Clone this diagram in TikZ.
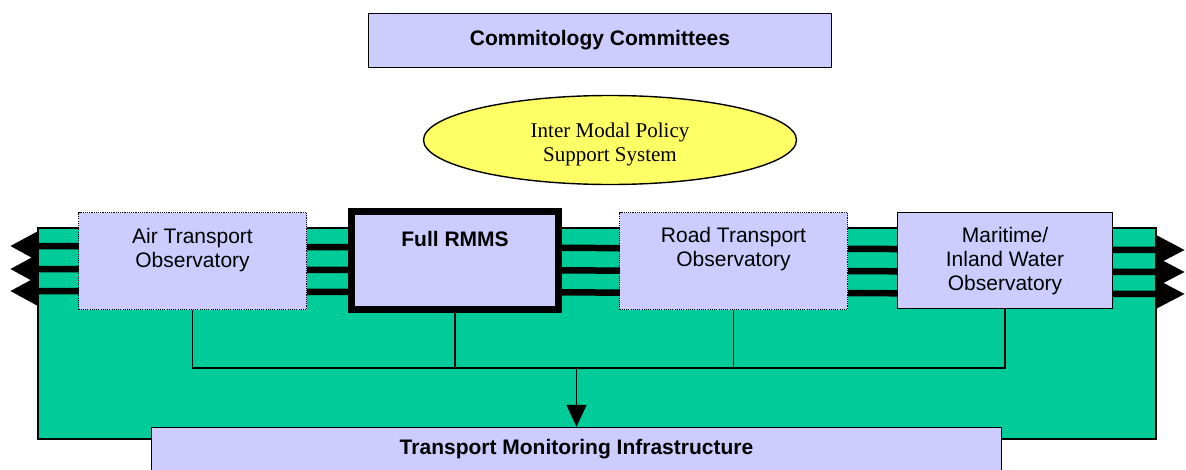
\documentclass[tikz,border=0pt]{standalone}
\usepackage{fontspec}
\setmainfont{Liberation Serif}
\setsansfont{Liberation Sans}
\usetikzlibrary{arrows.meta, shapes.geometric}

\definecolor{lav}{RGB}{204,204,255}
\definecolor{sea}{RGB}{0,204,153}
\definecolor{lemon}{RGB}{255,255,102}

\tikzset{
  box/.style={draw, fill=lav, line width=1.4pt, inner sep=0pt},
  dotbox/.style={box, dash pattern=on 1.1pt off 1.1pt},
  txt/.style={anchor=base, inner sep=0pt, align=center,
    font=\sffamily\fontsize{21}{24}\selectfont},
  bar/.style={line width=6.5pt, {Triangle[length=28pt, width=28pt]}-{Triangle[length=29pt, width=28pt]}},
  wire/.style={line width=1.4pt}
}

\begin{document}
\begin{tikzpicture}[x=1pt, y=-1pt]
    \clip (0,0) rectangle (1186,469);
    % green backplane
    \draw [fill=sea, line width=1.4pt] (38,228) rectangle (1156,439);
    % the three thick bars with arrow ends
    \coordinate (l1) at (10,246);  \coordinate (r1) at (1185,250);
    \coordinate (l2) at (10,269);  \coordinate (r2) at (1185,272);
    \coordinate (l3) at (10,291);  \coordinate (r3) at (1185,294);
    \foreach \i in {1,2,3}
    \draw [bar] (l\i) -- (r\i);

    \node [box, minimum width=463pt, minimum height=54pt, font=\sffamily\bfseries\fontsize{21}{24}\selectfont] (comm) at (600,40.5) {Commitology Committees};
    \node [draw, ellipse, fill=lemon, line width=1.4pt, minimum width=373pt, minimum height=89pt] (imps) at (610,140) {};
    \node [txt, font=\fontsize{21}{24}\selectfont] (impstxt) at (610,161) {Inter Modal Policy\\Support System};

    \node [dotbox, minimum width=228pt, minimum height=97pt] (air) at (192.5,261) {};
    \node [box, line width=7pt, minimum width=207pt, minimum height=98pt] (full) at (455,260.5) {};
    \node [dotbox, minimum width=228pt, minimum height=97pt] (road) at (733.5,261) {};
    \node [box, minimum width=215pt, minimum height=96pt] (mar) at (1005,260.5) {};
    \node [box, minimum width=850pt, minimum height=44pt, font=\sffamily\bfseries\fontsize{21}{24}\selectfont] (tmi) at (576.5,449.5) {Transport Monitoring Infrastructure};

    % labels, placed at the baseline of their last line
    \node [txt] (airtxt) at (192.5,267) {Air Transport\\Observatory};
    \node [txt, font=\sffamily\bfseries\fontsize{21}{24}\selectfont] (fulltxt) at (455,246) {Full RMMS};
    \node [txt] (roadtxt) at (733.5,266) {Road Transport\\Observatory};
    \node [txt] (martxt) at (1005,290) {Maritime/\\Inland Water\\Observatory};

    % collecting lines
    \coordinate (bus) at (576.5,368);
    \draw [wire] (air.south) |- (bus);
    \draw [wire] (full.south) |- (bus);
    \draw [wire] (road.south) |- (bus);
    \draw [wire] (mar.south) |- (bus);
    \draw [wire, -{Triangle[length=22pt, width=20pt]}] (bus) -- (tmi);
\end{tikzpicture}
\end{document}
